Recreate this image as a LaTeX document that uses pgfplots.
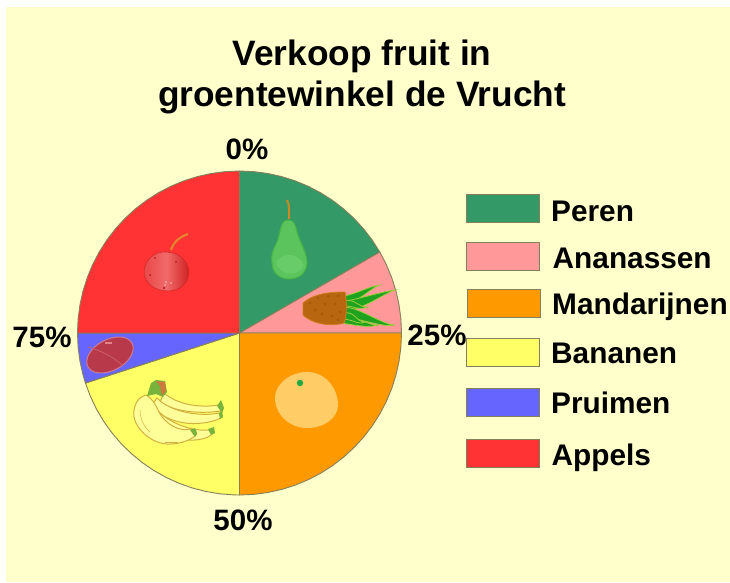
\documentclass[border=0pt]{standalone}
\usepackage{pgfplots}
\pgfplotsset{compat=1.18}
\usepgfplotslibrary{polar}
\usepackage{fontspec}
\setmainfont{Liberation Sans}
\definecolor{bgc}{HTML}{FFFFCC}
\definecolor{peren}{HTML}{339966}
\definecolor{ananas}{HTML}{FF9999}
\definecolor{mandarijn}{HTML}{FF9900}
\definecolor{banaan}{HTML}{FFFF66}
\definecolor{pruim}{HTML}{6666FF}
\definecolor{appel}{HTML}{FF3333}
\definecolor{edge}{HTML}{857F5A}
\definecolor{leaf}{HTML}{1FA31F}
\definecolor{leafedge}{HTML}{9CCC3C}
\definecolor{bline}{HTML}{D2B040}
\definecolor{stem}{HTML}{CC8822}
\definecolor{pearf}{HTML}{5CC45C}
\definecolor{peare}{HTML}{46B446}
\definecolor{pearl}{HTML}{68CC68}
\definecolor{pinef}{HTML}{B8660F}
\definecolor{pinee}{HTML}{CD7D1E}
\definecolor{pined}{HTML}{A85A0C}
\definecolor{astem}{HTML}{E48830}
\definecolor{a1}{HTML}{E84848}
\definecolor{a2}{HTML}{D02222}
\definecolor{a3}{HTML}{F26A6A}
\definecolor{a4}{HTML}{D02A2A}
\definecolor{a5}{HTML}{FAAAAA}
\definecolor{a6}{HTML}{AA1414}
\definecolor{plumf}{HTML}{B83A4A}
\definecolor{plume}{HTML}{D07A90}
\definecolor{plumc}{HTML}{D0646E}
\definecolor{pluml}{HTML}{E18287}
\definecolor{banf}{HTML}{FFFF99}
\definecolor{bant}{HTML}{78B43C}
\definecolor{banc}{HTML}{CD783C}
\definecolor{mandl}{HTML}{FFCC66}
\definecolor{mandd}{HTML}{20AA46}
\begin{document}
\begin{tikzpicture}[x=1pt,y=1pt]
\useasboundingbox (0,0) rectangle (730,582);
\fill[white] (0,0) rectangle (730,582);
\fill[bgc] (5.5,0) rectangle (730,575);
\begin{polaraxis}[
  at={(239.5pt,249pt)}, anchor=center,
  width=324pt, height=324pt, scale only axis,
  hide axis, clip=false,
  xmin=0, xmax=360, ymin=0, ymax=1]
\addplot[draw=edge, line width=0.9pt, fill=peren] coordinates {(0,0) (30,1) (35,1) (40,1) (45,1) (50,1) (55,1) (60,1) (65,1) (70,1) (75,1) (80,1) (85,1) (90,1)} -- cycle;
\addplot[draw=edge, line width=0.9pt, fill=ananas] coordinates {(0,0) (0,1) (5,1) (10,1) (15,1) (20,1) (25,1) (30,1)} -- cycle;
\addplot[draw=edge, line width=0.9pt, fill=mandarijn] coordinates {(0,0) (270,1) (275,1) (280,1) (285,1) (290,1) (295,1) (300,1) (305,1) (310,1) (315,1) (320,1) (325,1) (330,1) (335,1) (340,1) (345,1) (350,1) (355,1) (360,1)} -- cycle;
\addplot[draw=edge, line width=0.9pt, fill=banaan] coordinates {(0,0) (198,1) (203,1) (208,1) (213,1) (218,1) (223,1) (228,1) (233,1) (238,1) (243,1) (248,1) (253,1) (258,1) (263,1) (268,1) (270,1)} -- cycle;
\addplot[draw=edge, line width=0.9pt, fill=pruim] coordinates {(0,0) (180,1) (185,1) (190,1) (195,1) (198,1)} -- cycle;
\addplot[draw=edge, line width=0.9pt, fill=appel] coordinates {(0,0) (90,1) (95,1) (100,1) (105,1) (110,1) (115,1) (120,1) (125,1) (130,1) (135,1) (140,1) (145,1) (150,1) (155,1) (160,1) (165,1) (170,1) (175,1) (180,1)} -- cycle;
\end{polaraxis}
\begin{scope}[yshift=582pt,y=-1pt,x=1pt]
% title
\node[font=\fontsize{35.3}{40}\selectfont\bfseries, anchor=center] at (362,56) {Verkoop fruit in};
\node[font=\fontsize{35.3}{40}\selectfont\bfseries, anchor=center] at (362,97) {groentewinkel de Vrucht};
% percent labels
\node[font=\fontsize{29.5}{32}\selectfont\bfseries] at (247,149) {0\%};
\node[font=\fontsize{29.5}{32}\selectfont\bfseries] at (437,335) {25\%};
\node[font=\fontsize{29.5}{32}\selectfont\bfseries] at (243,520) {50\%};
\node[font=\fontsize{29.5}{32}\selectfont\bfseries] at (42,337) {75\%};
% legend
\foreach \xa/\ya/\c/\t/\ty/\lx in {466/194.5/peren/Peren/210/551, 466/242/ananas/Ananassen/257/552.5, 467/289/mandarijn/Mandarijnen/303/552, 466/338/banaan/Bananen/352/551, 466/388/pruim/Pruimen/402/551, 466/439/appel/Appels/454/551.5}{
  \fill[fill=\c,draw=edge,line width=0.8pt] (\xa,\ya) rectangle ++(73,28);
  \node[font=\fontsize{29.8}{32}\selectfont\bfseries, anchor=mid west, inner sep=0pt] at (\lx,\ty+9) {\t};
}
% pear
\draw[stem, line width=2pt] (287,200) .. controls (290,206) and (289,212) .. (289,219);
\draw[fill=pearf, draw=peare, line width=1pt]
 (288,220) .. controls (280,220) and (281,232) .. (277,242) .. controls (272,252) and (271,256) .. (272,263)
 .. controls (272,273) and (280,279) .. (289,279) .. controls (300,279) and (307,272) .. (307,262)
 .. controls (306,250) and (300,243) .. (297,232) .. controls (295,224) and (294,220) .. (288,220) -- cycle;
\fill[pearl] (276,262) .. controls (285,250) and (300,255) .. (304,265) .. controls (300,276) and (280,278) .. (276,262) -- cycle;
% pineapple leaves
\foreach \tx/\ty/\ba/\bb/\w in {380/285/344/299/3, 395/290/344/306/4.5, 368/307/344/303/2.5, 378/325/344/320/3.5, 395/325/344/312/4.5, 366/322/344/316/3}{
  \draw[fill=leaf, draw=leafedge, line width=0.8pt] (\ba,\bb-\w) .. controls (\ba+12,\bb-\w-2) and (\tx-10,\ty+1) .. (\tx,\ty)
     .. controls (\tx-10,\ty+3) and (\ba+14,\bb+\w+2) .. (\ba,\bb+\w) -- cycle;
}
\draw[fill=pinef, draw=pinee, line width=0.8pt]
 (303,303) .. controls (312,295) and (325,292) .. (345,292) .. controls (347,302) and (347,315) .. (344,323)
 .. controls (335,326) and (315,326) .. (303,315) -- cycle;
\foreach \px/\py in {310/303,318/298,328/296,338/296,315/310,325/304,335/304,340/312,322/314,332/316,338/320}{
  \fill[pined] (\px,\py) circle (1.5);
}
% apple
\draw[astem, line width=2pt] (171,250) .. controls (174,241) and (180,237) .. (188,234);
\shade[left color=a1, right color=a2, middle color=a3]
 (166,252) .. controls (155,251) and (144,260) .. (144,272) .. controls (144,284) and (156,291) .. (168,291)
 .. controls (180,291) and (189,283) .. (189,272) .. controls (189,260) and (177,252) .. (166,252) -- cycle;
\draw[a4, line width=0.6pt] (166,252) .. controls (155,251) and (144,260) .. (144,272) .. controls (144,284) and (156,291) .. (168,291)
 .. controls (180,291) and (189,283) .. (189,272) .. controls (189,260) and (177,252) .. (166,252) -- cycle;
\fill[a5] (166,282) circle (1.2) (165,285) circle (1) (171,283) circle (1);
\fill[a6] (164,288) circle (1.2) (150,275) circle (1) (176,262) circle (0.8) (155,258) circle (0.8);
% plum
\draw[rotate around={28:(110,355)}, fill=plumf, draw=plume, line width=1pt] (110,355) ellipse (25 and 15.5);
\draw[plumc, line width=0.7pt] (88,347) .. controls (100,350) and (115,358) .. (122,365);
\fill[pluml] (105,342) rectangle (112,343.5);
% bananas
\tikzset{ban/.style={fill=banf, draw=bline, line width=1pt}}
\draw[ban] (164,393) .. controls (178,405) and (200,408) .. (219,405) -- (221,411) .. controls (200,414) and (175,412) .. (160,402) -- cycle;
\fill[bant] (217,406) -- (221,400) -- (224,408) -- (222,413) -- cycle;
\draw[ban] (157,398) .. controls (170,412) and (200,417) .. (219,413) -- (221,418) .. controls (200,428) and (165,425) .. (152,405) -- cycle;
\fill[bant] (219,413) -- (222,411) -- (223,417) -- (220,419) -- cycle;
\draw[ban] (152,402) .. controls (160,420) and (190,432) .. (209,430) -- (212,434) .. controls (205,442) and (175,445) .. (150,425) -- cycle;
\fill[bant] (208,429) -- (214,427) -- (215,433) -- (211,435) -- cycle;
\draw[ban] (146,395) .. controls (135,398) and (133,410) .. (134,417) .. controls (137,432) and (155,445) .. (170,444)
 .. controls (180,444) and (192,440) .. (197,434) -- (191,429) .. controls (180,432) and (165,425) .. (158,410) .. controls (155,404) and (152,398) .. (146,395) -- cycle;
\fill[bant] (190,430) -- (195,428) -- (197,433) -- (195,437) -- cycle;
\draw[bline, line width=0.5pt] (140,410) .. controls (140,420) and (145,428) .. (150,432);
\draw[bline, line width=0.5pt] (165,442) -- (178,442);
\fill[bant] (147,396) -- (151,383) -- (156,380) -- (165,381) -- (167,392) -- (163,397) -- (156,394) -- cycle;
\fill[banc] (156,381) -- (165,382) -- (166,391) -- (162,396) -- (160,386) -- cycle;
% mandarin
\fill[mandl] (307,372) .. controls (325,372) and (338,388) .. (338,405) .. controls (338,418) and (324,428) .. (307,428) .. controls (290,428) and (275,415) .. (275,398) .. controls (275,384) and (290,372) .. (307,372) -- cycle;
\fill[mandd] (300,383) circle (3.2);
\end{scope}
\end{tikzpicture}
\end{document}
